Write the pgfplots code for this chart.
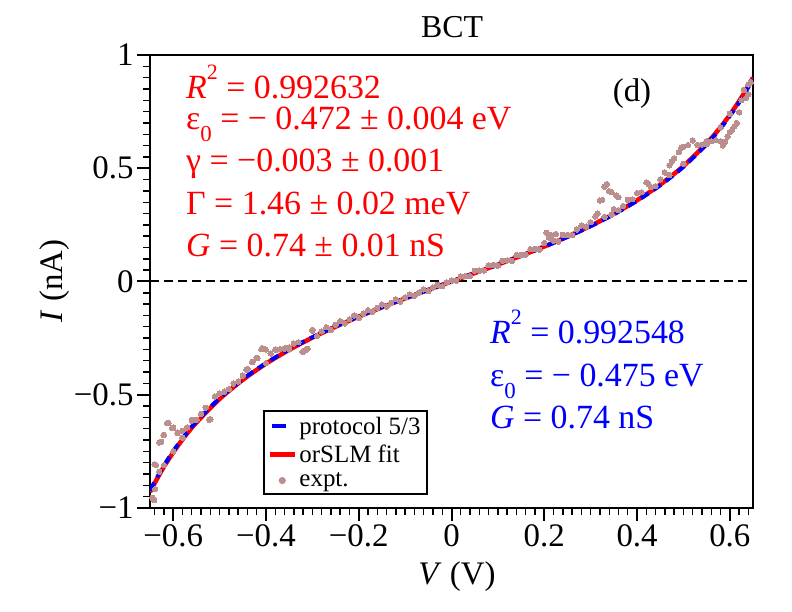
\documentclass[border=0pt]{standalone}
\usepackage{pgfplots}
\pgfplotsset{compat=1.18}
\usepackage{fontspec}
\setmainfont{Liberation Serif}
\newfontfamily\tnr{Liberation Serif}
\definecolor{expt}{RGB}{188,143,143}
\newcommand{\fA}{\tnr\fontsize{34}{38}\selectfont}
\newcommand{\fT}{\tnr\fontsize{33}{38}\selectfont}
\newcommand{\sups}[1]{\raisebox{19bp}{\fontsize{22}{22}\selectfont #1}}
\newcommand{\subs}[1]{\raisebox{-12bp}{\fontsize{23}{23}\selectfont #1}}
\begin{document}
\begin{tikzpicture}[x=1bp,y=1bp]
\path[use as bounding box] (0,0) rectangle (792,612);
\begin{axis}[
  at={(150bp,104bp)}, anchor=south west,
  scale only axis, width=603bp, height=453bp,
  xmin=-0.65, xmax=0.65, ymin=-1, ymax=1,
  axis line style={line width=1.6bp},
  tick align=outside, xtick pos=left, ytick pos=left,
  xtick={-0.6,-0.4,-0.2,0,0.2,0.4,0.6},
  xticklabels={−0.6,−0.4,−0.2,0,0.2,0.4,0.6},
  minor xtick={-0.64,-0.62,...,0.641},
  ytick={-1,-0.5,0,0.5,1},
  yticklabels={−1,−0.5,0,0.5,1},
  minor ytick={-0.95,-0.9,...,0.96},
  major tick length=13bp, minor tick length=7bp,
  every major tick/.append style={line width=2bp, black},
  every minor tick/.append style={line width=1.4bp, black},
  ticklabel style={font=\fT},
  legend style={at={(0.1874,0.2163)}, anchor=north west, draw=black, line width=2bp,
    font=\tnr\fontsize{25}{26}\selectfont, inner xsep=4bp, inner ysep=4bp, row sep=5bp},
  legend cell align=left,
]
\addlegendimage{legend image code/.code={\draw[blue,line width=4bp] (2bp,0)--(16bp,0);}}
\addlegendimage{legend image code/.code={\draw[red,line width=4.5bp] (0bp,0)--(25bp,0);}}
\addlegendimage{legend image code/.code={\fill[expt] (12bp,0) circle (2.5bp);}}
\legend{protocol 5/3, orSLM fit, expt.}

\addplot[black, line width=2bp, dash pattern=on 9bp off 5bp, forget plot] coordinates {(-0.65,0) (0.65,0)};

\addplot[only marks, color=expt, mark=*, mark size=2.7bp, mark options={draw=expt, fill=expt, line width=0pt}, forget plot] coordinates {
(0,0.005)(0.01,0.0034)(0.02,0.0228)(0.03,0.0242)(0.04,0.0237)(0.05,0.0471)(0.06,0.0486)(0.07,0.0491)(0.08,0.0716)(0.09,0.0732)(0.10,0.0698)(0.11,0.0915)(0.12,0.0923)(0.13,0.0911)(0.14,0.1169)(0.15,0.1179)(0.16,0.1179)(0.17,0.1430)(0.18,0.1442)(0.19,0.1406)(0.20,0.1700)(0.21,0.1935)(0.22,0.1802)(0.23,0.1759)(0.24,0.2059)(0.25,0.2050)(0.26,0.2042)(0.27,0.2296)(0.28,0.2472)(0.29,0.2420)(0.30,0.2619)(0.31,0.2871)(0.32,0.3575)(0.33,0.4182)(0.34,0.3991)(0.35,0.3203)(0.36,0.3717)(0.37,0.3335)(0.38,0.3606)(0.39,0.3630)(0.40,0.3908)(0.41,0.3939)(0.42,0.4375)(0.43,0.4165)(0.44,0.4210)(0.45,0.4509)(0.46,0.4814)(0.47,0.5124)(0.48,0.5441)(0.49,0.5713)(0.50,0.5943)(0.51,0.6029)(0.52,0.6224)(0.53,0.6027)(0.54,0.6039)(0.55,0.6061)(0.56,0.6194)(0.57,0.6238)(0.58,0.6194)(0.59,0.6164)(0.60,0.6599)(0.61,0.6850)(0.62,0.7468)(0.63,0.8456)(0.64,0.8264)(0.645,0.8802)
(0.205,0.215)(0.215,0.205)(0.225,0.21)(0.315,0.30)(0.325,0.36)(0.335,0.43)(0.345,0.395)(0.355,0.38)(0.33,0.285)(0.345,0.295)(0.36,0.315)(0.425,0.43)(0.475,0.53)(0.495,0.59)(0.585,0.60)(0.595,0.64)(0.605,0.67)(0.615,0.70)(0.625,0.80)(0.635,0.81)(0.64,0.87)(0.47,0.47)(0.5,0.52)(0.55,0.62)(0.58,0.68)(0.6,0.74)
(-0.01,-0.0034)(-0.02,-0.0208)(-0.03,-0.0142)(-0.04,-0.0267)(-0.05,-0.0421)(-0.06,-0.0346)(-0.07,-0.0481)(-0.08,-0.0636)(-0.09,-0.0562)(-0.10,-0.0698)(-0.11,-0.0885)(-0.12,-0.0783)(-0.13,-0.0941)(-0.14,-0.1109)(-0.15,-0.1009)(-0.16,-0.1159)(-0.17,-0.1340)(-0.18,-0.1262)(-0.19,-0.1416)(-0.20,-0.1610)(-0.21,-0.1495)(-0.22,-0.1662)(-0.23,-0.1849)(-0.24,-0.1749)(-0.25,-0.1910)(-0.26,-0.2132)(-0.27,-0.2016)(-0.28,-0.2202)(-0.29,-0.2410)(-0.30,-0.2169)(-0.31,-0.2971)(-0.32,-0.3075)(-0.33,-0.2682)(-0.34,-0.2741)(-0.35,-0.2903)(-0.36,-0.2967)(-0.37,-0.2985)(-0.38,-0.3006)(-0.39,-0.3180)(-0.40,-0.3008)(-0.41,-0.2989)(-0.42,-0.3375)(-0.43,-0.3565)(-0.44,-0.3860)(-0.45,-0.4159)(-0.46,-0.4414)(-0.47,-0.4504)(-0.48,-0.4751)(-0.49,-0.4863)(-0.50,-0.4943)(-0.51,-0.5079)(-0.52,-0.6074)(-0.53,-0.5577)(-0.54,-0.5839)(-0.55,-0.6111)(-0.56,-0.6144)(-0.57,-0.6438)(-0.58,-0.6594)(-0.59,-0.6664)(-0.60,-0.6449)(-0.61,-0.6250)(-0.62,-0.6768)(-0.63,-0.7106)(-0.64,-0.8064)(-0.645,-0.9552)
(-0.641,-0.965)(-0.639,-0.916)(-0.637,-0.81)(-0.626,-0.708)(-0.621,-0.678)(-0.613,-0.625)(-0.602,-0.647)(-0.591,-0.669)(-0.559,-0.611)(-0.522,-0.611)(-0.442,-0.39)(-0.429,-0.355)(-0.418,-0.338)(-0.408,-0.294)(-0.378,-0.302)(-0.356,-0.294)(-0.321,-0.311)(-0.313,-0.302)(-0.300,-0.214)(-0.6,-0.75)(-0.62,-0.81)(-0.58,-0.69)(-0.4,-0.36)(-0.35,-0.30)(-0.63,-0.84)
};

\addplot[red, line width=4.5bp, smooth, forget plot] coordinates {
(-0.65,-0.9292)(-0.625,-0.8353)(-0.6,-0.7546)(-0.575,-0.6844)(-0.55,-0.6227)(-0.5,-0.5189)(-0.45,-0.4341)(-0.4,-0.3630)(-0.35,-0.3018)(-0.3,-0.2480)(-0.25,-0.1996)(-0.2,-0.1554)(-0.15,-0.1141)(-0.1,-0.0749)(-0.05,-0.0371)(0,0)(0.05,0.0371)(0.1,0.0747)(0.15,0.1137)(0.2,0.1545)(0.25,0.1983)(0.3,0.2459)(0.35,0.2987)(0.4,0.3586)(0.45,0.4278)(0.5,0.5098)(0.55,0.6097)(0.575,0.6687)(0.6,0.7355)(0.625,0.8120)(0.65,0.9005)
};

\addplot[blue, line width=4bp, dash pattern=on 9bp off 6bp, smooth, forget plot] coordinates {
(-0.65,-0.9227)(-0.625,-0.8295)(-0.6,-0.7493)(-0.575,-0.6796)(-0.55,-0.6183)(-0.5,-0.5153)(-0.45,-0.4311)(-0.4,-0.3605)(-0.35,-0.2997)(-0.3,-0.2463)(-0.25,-0.1982)(-0.2,-0.1543)(-0.15,-0.1133)(-0.1,-0.0744)(-0.05,-0.0368)(0,0)(0.05,0.0368)(0.1,0.0742)(0.15,0.1129)(0.2,0.1534)(0.25,0.1969)(0.3,0.2442)(0.35,0.2966)(0.4,0.3561)(0.45,0.4248)(0.5,0.5062)(0.55,0.6054)(0.575,0.6640)(0.6,0.7303)(0.625,0.8063)(0.65,0.8942)
};
\end{axis}

\node[anchor=base, font=\tnr\fontsize{32}{36}\selectfont] at (452,574) {BCT};
\node[anchor=base, font=\fT] at (457,27) {\textit{V} (V)};
\node[anchor=base, rotate=90, font=\fT] at (62,331) {\textit{I} (nA)};
\node[anchor=base, font=\fT] at (632,510) {(d)};

\begin{scope}[every node/.style={anchor=base west, font=\fA, text=red, inner sep=0pt}]
\node at (186,513) {\textit{R}\sups{2} = 0.992632};
\node at (186,482) {ε\subs{0} = − 0.472 ± 0.004 eV};
\node at (186,440) {γ = −0.003 ± 0.001};
\node at (186,397) {Γ = 1.46 ± 0.02 meV};
\node at (186,355) {\textit{G} = 0.74 ± 0.01 nS};
\end{scope}
\begin{scope}[every node/.style={anchor=base west, font=\fA, text=blue, inner sep=0pt}]
\node at (490,268) {\textit{R}\sups{2} = 0.992548};
\node at (490,225) {ε\subs{0} = − 0.475 eV};
\node at (490,183) {\textit{G} = 0.74 nS};
\end{scope}
\end{tikzpicture}
\end{document}
